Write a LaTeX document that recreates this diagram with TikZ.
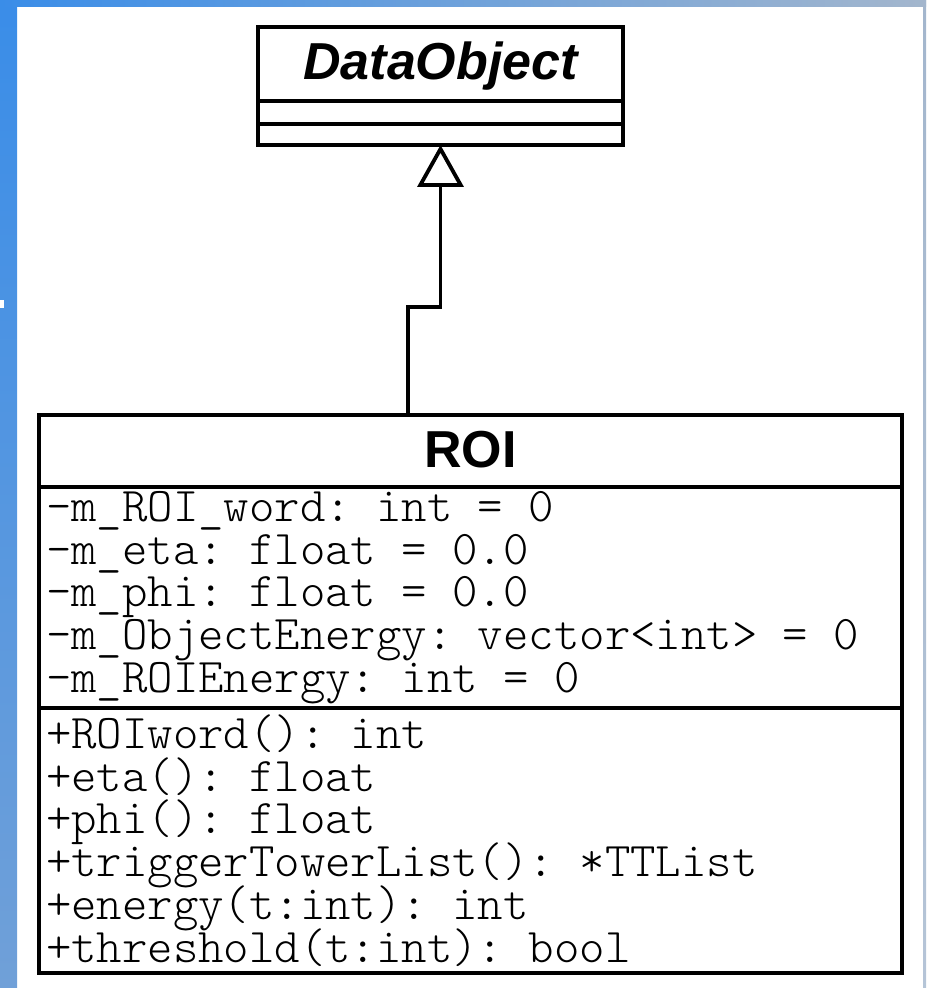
\documentclass[tikz,border=0pt]{standalone}
\usepackage{fontspec}
\setsansfont{Liberation Sans}
\usetikzlibrary{positioning,arrows.meta}

\definecolor{slideblue}{RGB}{58,141,232}
\definecolor{slideblue2}{RGB}{112,160,216}
\definecolor{slidegrey}{RGB}{163,182,205}

\begin{document}
\begin{tikzpicture}[x=0.5pt,y=-0.5pt,
                    line width=1.9pt,
                    node distance=0pt,
                    class name/.style={rectangle,draw,outer sep=0pt,inner sep=0pt,
                      text height=19pt,text depth=3pt,
                      font=\fontsize{26}{30}\sffamily\bfseries\selectfont},
                    compartment/.style={rectangle,draw,outer sep=0pt,inner sep=0pt},
                    members/.style={compartment,align=left,inner xsep=3.5pt,text width=424.5pt,
                      font=\fontsize{24.2}{21.4}\ttfamily\fontseries{l}\selectfont,
                      execute at begin node={\lineskiplimit=-50pt\spaceskip=0.525em\xspaceskip=0.525em\relax}},
                    inherits/.style={-{Triangle[open,length=21pt,width=23pt]}}]

  % slide background
  \useasboundingbox (0,0) rectangle (926,988);
  \shade[top color=slideblue,bottom color=slideblue2] (0,0) rectangle (17,988);
  \shade[left color=slideblue,right color=slidegrey] (0,0) rectangle (926,7);
  \shade[top color=slidegrey,bottom color=slidegrey!80!white] (923,0) rectangle (926,988);
  \fill[white] (0,300) rectangle (4,308);

  \node[class name,minimum width=182.5pt,minimum height=37pt] (dobj) at (440.5,64) {\itshape DataObject};
  \node[compartment,minimum width=182.5pt,minimum height=11.5pt] (dobjattr) [below=of dobj] {};
  \node[compartment,minimum width=182.5pt,minimum height=10.5pt] (dobjops) [below=of dobjattr] {};

  \node[class name,minimum width=431.5pt,minimum height=36pt] (roi) at (470.5,451) {ROI};
  \node[members,minimum height=110.5pt] (roiattr) [below=of roi] {%
    -m\_ROI\_word: int = 0\\
    -m\_eta: float = 0.0\\
    -m\_phi: float = 0.0\\
    -m\_ObjectEnergy: vector<int> = 0\\
    -m\_ROIEnergy: int = 0};
  \node[members,minimum height=132.5pt] (roiops) [below=of roiattr] {%
    +ROIword(): int\\
    +eta(): float\\
    +phi(): float\\
    +triggerTowerList(): *TTList\\
    +energy(t:int): int\\
    +threshold(t:int): bool};

  \draw[inherits] ([xshift=-31.25pt]roi.north) -- ++(0,-108) -| (dobjops.south);
\end{tikzpicture}
\end{document}
